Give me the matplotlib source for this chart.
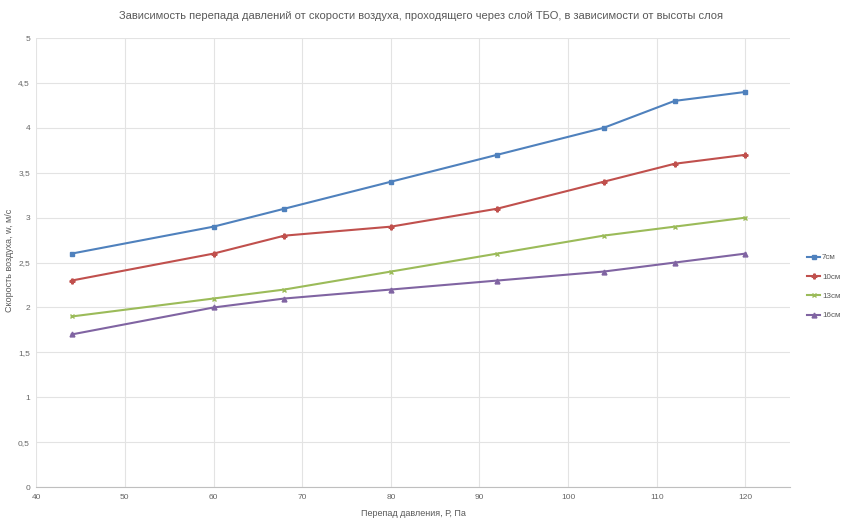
import matplotlib.pyplot as plt
from matplotlib.ticker import FuncFormatter

plt.rcParams['font.family'] = ['Liberation Sans Narrow', 'Liberation Sans', 'DejaVu Sans']

pressure = [44, 60, 68, 80, 92, 104, 112, 120]
v7 = [2.6, 2.9, 3.1, 3.4, 3.7, 4.0, 4.3, 4.4]
v10 = [2.3, 2.6, 2.8, 2.9, 3.1, 3.4, 3.6, 3.7]
v13 = [1.9, 2.1, 2.2, 2.4, 2.6, 2.8, 2.9, 3.0]
v16 = [1.7, 2.0, 2.1, 2.2, 2.3, 2.4, 2.5, 2.6]
labels = ['7см', '10см', '13см', '16см']

colors = ['#4F81BD', '#C0504D', '#9BBB59', '#8064A2']
markers = ['s', 'P', 'x', '^']

fig = plt.figure(figsize=(8.42, 5.21), dpi=100)
ax = fig.add_axes([0.043, 0.065, 0.895, 0.862])

for ys, lab, c, m in zip([v7, v10, v13, v16], labels, colors, markers):
    ax.plot(pressure, ys, color=c, lw=1.5, marker=m, ms=3.5, label=lab)

ax.set_xlim(40, 125)
ax.set_ylim(0, 5)
ax.set_xticks(range(40, 121, 10))
ax.set_yticks([i * 0.5 for i in range(11)])
ax.yaxis.set_major_formatter(FuncFormatter(lambda v, p: ('%g' % v).replace('.', ',')))
ax.grid(True, color='#E3E3E3', lw=0.8)
ax.set_axisbelow(True)
for s in ['top', 'right', 'left']:
    ax.spines[s].set_visible(False)
ax.spines['bottom'].set_color('#BFBFBF')
ax.tick_params(length=0, labelsize=6, colors='#666666')
ax.tick_params(axis='y', pad=4.5)
ax.tick_params(axis='x', pad=5)

ax.set_xlabel('Перепад давления, Р, Па', fontsize=6.5, color='#595959', labelpad=6)
fig.text(0.011, 0.5, 'Скорость воздуха, w, м/с', rotation=90, ha='center', va='center',
         fontsize=6.5, color='#595959')
fig.suptitle('Зависимость перепада давлений от скорости воздуха, проходящего через слой ТБО, в зависимости от высоты слоя',
             fontsize=8, color='#595959', y=0.978)

fig.legend(loc='center left', bbox_to_anchor=(0.959, 0.45), frameon=False, fontsize=5.8,
           labelcolor='#595959', handlelength=1.6, labelspacing=1.45, handletextpad=0.2,
           borderaxespad=0, borderpad=0)

fig.savefig('out.png', dpi=100)
